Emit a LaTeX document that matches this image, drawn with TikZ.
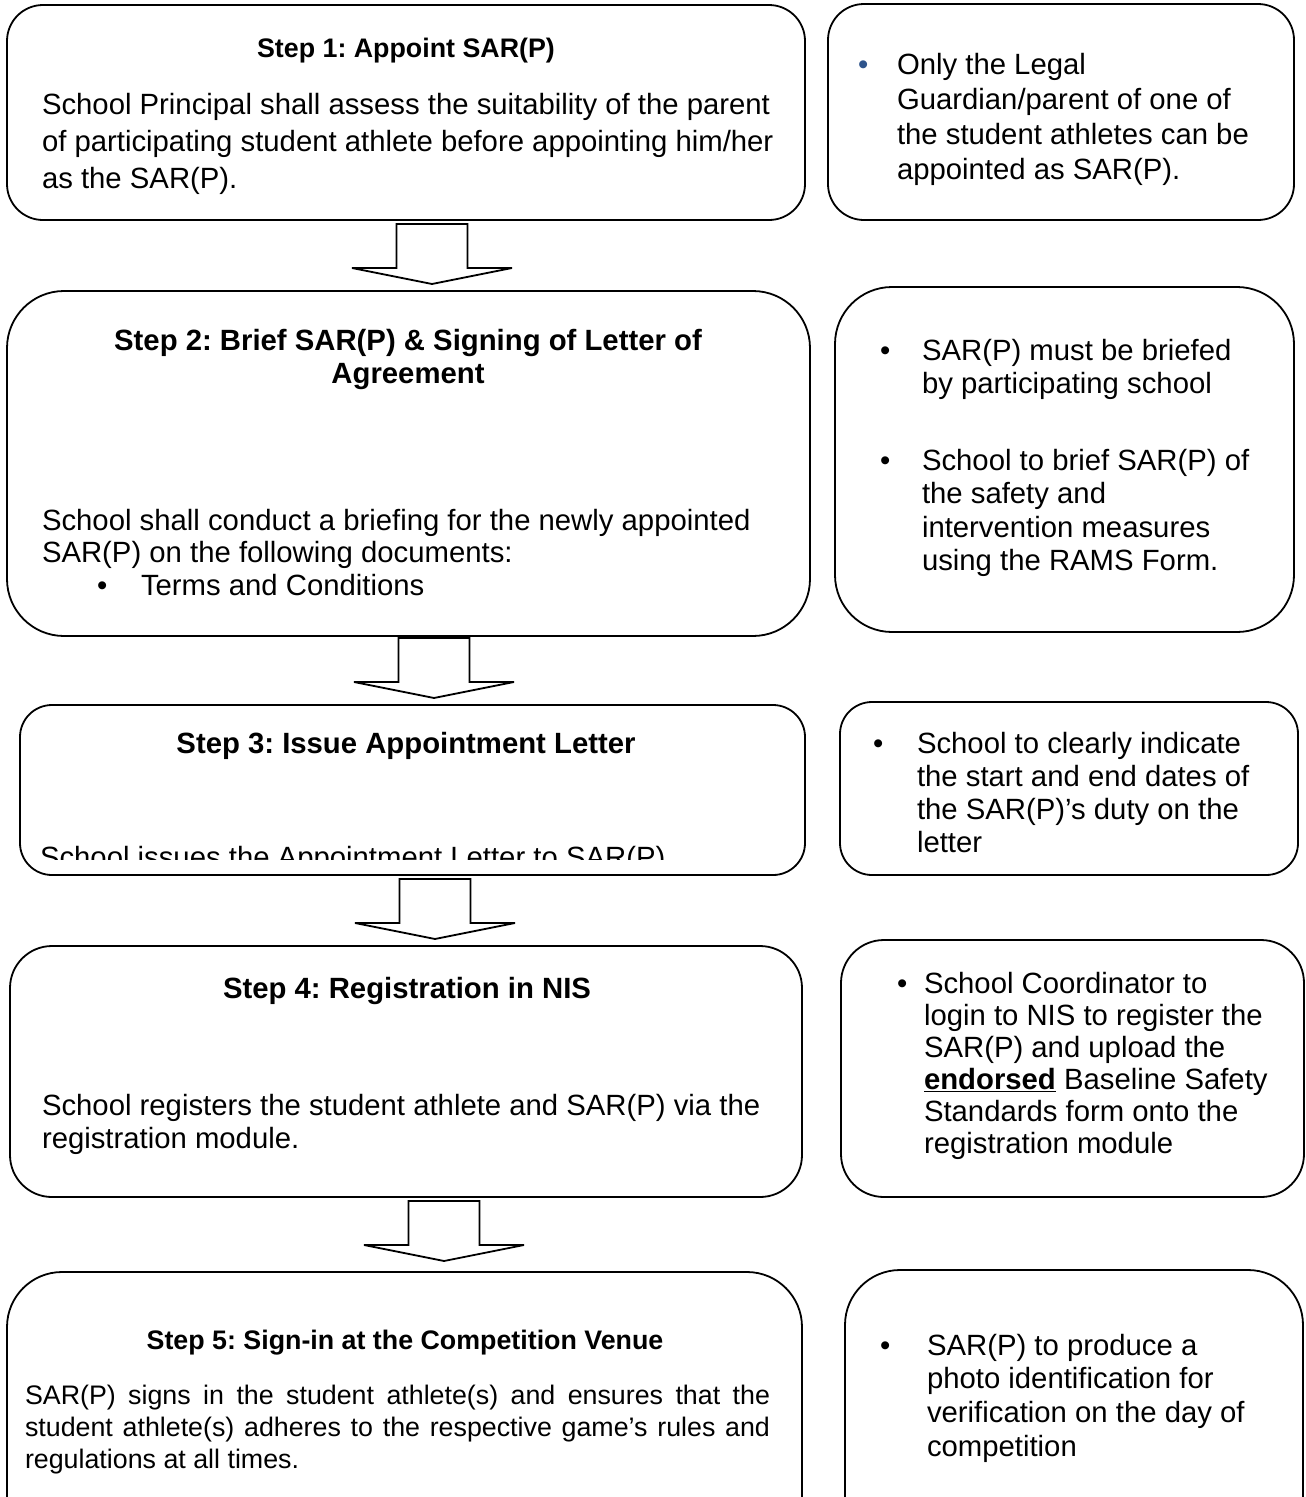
\documentclass[tikz,border=0pt]{standalone}
\usepackage{fontspec}
\setmainfont{Liberation Sans}
\definecolor{bulletblue}{RGB}{46,84,140}
\tikzset{
  box/.style={draw=black, line width=1.8pt, fill=white, inner sep=0pt},
  blockarr/.style={draw=black, line width=1.8pt, fill=white, line join=miter},
  txt/.style={inner sep=0pt, outer sep=0pt, anchor=north west, align=left},
  ctxt/.style={inner sep=0pt, outer sep=0pt, anchor=north, align=center},
  bul/.style={inner sep=0pt, outer sep=0pt, anchor=base west},
  pics/downarrow/.style={code={
    \draw[blockarr] (-35.5,0) -- (35.5,0) -- (35.5,44) -- (80,44) -- (0,60)
      -- (-80,44) -- (-35.5,44) -- cycle;}}
}
\newcommand{\bfnt}[1]{\fontsize{29.3}{#1}\selectfont}
\newcommand{\sfnt}[1]{\fontsize{26.8}{#1}\selectfont}
\frenchspacing
\begin{document}
\begin{tikzpicture}[x=1pt,y=-1pt]
\useasboundingbox (0,0) rectangle (1306,1497);
\clip (0,0) rectangle (1306,1497);

% ---------- boxes ----------
\node[box, rounded corners=36pt, minimum width=798pt, minimum height=215pt] (s1) at (406,112.5) {};
\node[box, rounded corners=36pt, minimum width=466pt, minimum height=216pt] (n1) at (1061,112) {};
\node[box, rounded corners=57pt, minimum width=803pt, minimum height=345pt] (s2) at (408.5,463.5) {};
\node[box, rounded corners=57pt, minimum width=459pt, minimum height=345pt] (n2) at (1064.5,459.5) {};
\node[box, rounded corners=32pt, minimum width=785pt, minimum height=170pt] (s3) at (412.5,790) {};
\node[box, rounded corners=32pt, minimum width=458pt, minimum height=173pt] (n3) at (1069,788.5) {};
\node[box, rounded corners=42pt, minimum width=792pt, minimum height=251pt] (s4) at (406,1071.5) {};
\node[box, rounded corners=43pt, minimum width=463pt, minimum height=257pt] (n4) at (1072.5,1068.5) {};
\node[box, rounded corners=55pt, minimum width=795pt, minimum height=330pt] (s5) at (404.5,1437) {};
\node[box, rounded corners=55pt, minimum width=458pt, minimum height=330pt] (n5) at (1074,1435) {};

% ---------- block arrows ----------
\coordinate (a1) at (432,224);
\coordinate (a2) at (434,638);
\coordinate (a3) at (435,879);
\coordinate (a4) at (444,1201);
\pic at (a1) {downarrow};
\pic at (a2) {downarrow};
\pic at (a3) {downarrow};
\pic at (a4) {downarrow};

% ---------- Step 1 ----------
\node[ctxt, font=\bfseries\sfnt{30}] (h1) at (406,36) {\strut Step 1: Appoint SAR(P)};
\node[txt, font=\bfnt{37}] (t1) at (42,88.1) {\strut School Principal shall assess the suitability of the parent\\
of participating student athlete before appointing him/her\\
as the SAR(P).};
\node[bul, font=\bfnt{35}, text=bulletblue] (bu1) at (858,74) {•};
\node[txt, font=\bfnt{35}] (r1) at (897,49.5) {\strut Only the Legal\\
Guardian/parent of one of\\
the student athletes can be\\
appointed as SAR(P).};

% ---------- Step 2 ----------
\node[ctxt, font=\bfseries\bfnt{33}] (h2) at (408,326.9) {\strut Step 2: Brief SAR(P) \& Signing of Letter of\\Agreement};
\node[txt, font=\bfnt{32}] (t2) at (42,507.6) {\strut School shall conduct a briefing for the newly appointed\\
SAR(P) on the following documents:};
\node[bul, font=\bfnt{35}] (bu2) at (97,595) {•};
\node[bul, font=\bfnt{35}] (t2b) at (141,595) {Terms and Conditions};
\node[bul, font=\bfnt{35}] (bu2a) at (880,360) {•};
\node[txt, font=\bfnt{33.5}] (r2a) at (922,336.55) {\strut SAR(P) must be briefed\\
by participating school};
\node[bul, font=\bfnt{35}] (bu2b) at (880,470) {•};
\node[txt, font=\bfnt{33.5}] (r2b) at (922,446.55) {\strut School to brief SAR(P) of\\
the safety and\\
intervention measures\\
using the RAMS Form.};

% ---------- Step 3 ----------
\node[ctxt, font=\bfseries\bfnt{33}] (h3) at (406,729.9) {\strut Step 3: Issue Appointment Letter};
\begin{scope}
  \clip (20,700) rectangle (805,859);
  \node[bul, font=\bfnt{35}] (t3) at (40,867) {School issues the Appointment Letter to SAR(P).};
\end{scope}
\node[bul, font=\bfnt{35}] (bu3) at (873,753) {•};
\node[txt, font=\bfnt{33}] (r3) at (917,729.9) {\strut School to clearly indicate\\
the start and end dates of\\
the SAR(P)’s duty on the\\
letter};

% ---------- Step 4 ----------
\node[ctxt, font=\bfseries\bfnt{33}] (h4) at (407,974.9) {\strut Step 4: Registration in NIS};
\node[txt, font=\bfnt{33}] (t4) at (42,1091.9) {\strut School registers the student athlete and SAR(P) via the\\
registration module.};
\node[bul, font=\bfnt{35}] (bu4) at (897,993) {•};
\node[txt, font=\bfnt{32}] (r4) at (924,970.6) {\strut School Coordinator to\\
login to NIS to register the\\
SAR(P) and upload the\\
\textbf{\underline{endorsed}} Baseline Safety\\
Standards form onto the\\
registration module};

% ---------- Step 5 ----------
\node[ctxt, font=\bfseries\sfnt{30}] (h5) at (405,1328) {\strut Step 5: Sign-in at the Competition Venue};
\node[txt, font=\sfnt{32}] (t5) at (25,1381.6) {\hbox to 745pt{\strut SAR(P) signs in the student athlete(s) and ensures that the}\\
\hbox to 745pt{student athlete(s) adheres to the respective game’s rules and}\\
regulations at all times.};
\node[bul, font=\bfnt{35}] (bu5) at (880,1355) {•};
\node[txt, font=\bfnt{33.7}] (r5) at (927,1331.4) {\strut SAR(P) to produce a\\
photo identification for\\
verification on the day of\\
competition};
\end{tikzpicture}
\end{document}
